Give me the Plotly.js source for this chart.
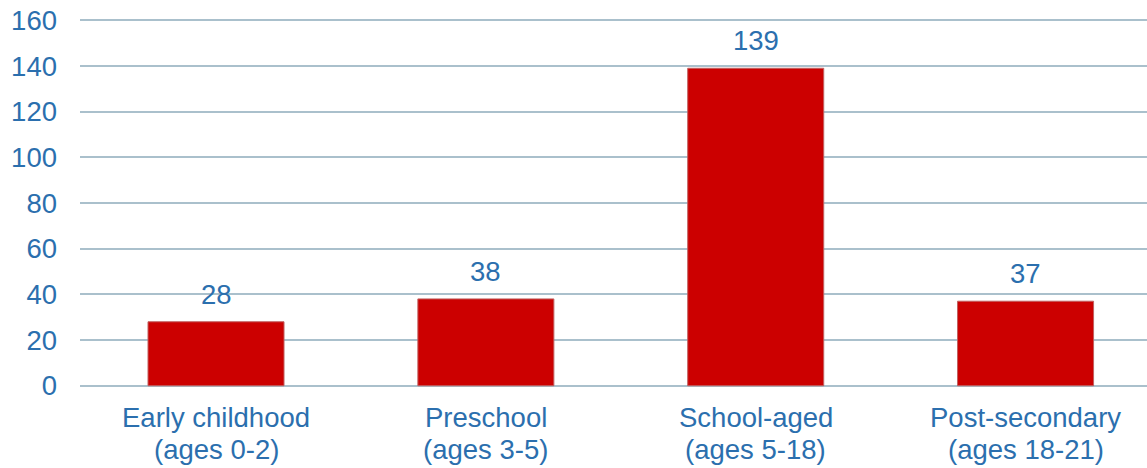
<!DOCTYPE html>
<html>
<head>
<meta charset="utf-8">
<script src="https://cdn.plot.ly/plotly-3.0.1.min.js"></script>
<style>html,body{margin:0;padding:0;background:#fff;}#chart{width:1147px;height:468px;}</style>
</head>
<body>
<div id="chart"></div>
<script>
const categories = ["Early childhood", "Preschool", "School-aged", "Post-secondary"];
const ageRanges = ["(ages 0-2)", "(ages 3-5)", "(ages 5-18)", "(ages 18-21)"];
const values = [28, 38, 139, 37];
const yTicks = [0, 20, 40, 60, 80, 100, 120, 140, 160];

const textColor = "#2b6fae";
const fontFam = "Liberation Sans, Arial, sans-serif";
const fs = 27.5;

const trace = {
  type: "bar",
  x: categories,
  y: values,
  width: 0.504,
  marker: {color: "#cc0000", line: {color: "#c06060", width: 1}},
  hoverinfo: "none"
};

const annotations = [];
categories.forEach((c, i) => {
  annotations.push({
    x: c, y: values[i], xref: "x", yref: "y",
    text: String(values[i]), showarrow: false,
    yanchor: "bottom", yshift: 10,
    font: {family: fontFam, size: fs, color: textColor}
  });
  annotations.push({
    x: c, y: 0, xref: "x", yref: "y",
    text: c, showarrow: false,
    yanchor: "top", yshift: -14,
    font: {family: fontFam, size: fs, color: textColor}
  });
  annotations.push({
    x: c, y: 0, xref: "x", yref: "y",
    text: ageRanges[i], showarrow: false,
    yanchor: "top", yshift: -46,
    font: {family: fontFam, size: fs, color: textColor}
  });
});

const layout = {
  width: 1147, height: 468,
  margin: {l: 80, r: 0, t: 18, b: 80},
  paper_bgcolor: "#ffffff", plot_bgcolor: "#ffffff",
  showlegend: false,
  font: {family: fontFam, size: fs, color: textColor},
  xaxis: {
    type: "category",
    range: [-0.504, 3.45],
    showgrid: false, zeroline: false, showline: false,
    ticks: "", showticklabels: false
  },
  yaxis: {
    range: [-1, 161],
    tickvals: yTicks,
    ticktext: yTicks.map(String),
    showgrid: true, gridcolor: "#aac0cc", gridwidth: 2,
    zeroline: false, showline: false, ticks: "",
    ticklabelstandoff: 22,
    tickfont: {family: fontFam, size: fs, color: textColor}
  },
  annotations: annotations
};

Plotly.newPlot("chart", [trace], layout, {staticPlot: true, displayModeBar: false});
</script>
</body>
</html>
